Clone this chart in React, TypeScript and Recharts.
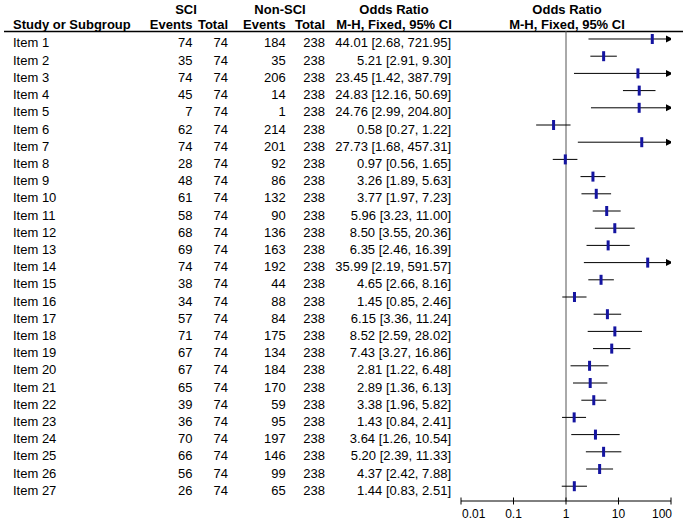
import React from "react";
import {
  ScatterChart,
  Scatter,
  XAxis,
  YAxis,
  ReferenceLine,
  Customized,
} from "recharts";

const studies = [
  "Item 1", "Item 2", "Item 3", "Item 4", "Item 5", "Item 6", "Item 7", "Item 8", "Item 9",
  "Item 10", "Item 11", "Item 12", "Item 13", "Item 14", "Item 15", "Item 16", "Item 17", "Item 18",
  "Item 19", "Item 20", "Item 21", "Item 22", "Item 23", "Item 24", "Item 25", "Item 26", "Item 27",
];
const sciEvents = [74, 35, 74, 45, 7, 62, 74, 28, 48, 61, 58, 68, 69, 74, 38, 34, 57, 71, 67, 67, 65, 39, 36, 70, 66, 56, 26];
const sciTotal = [74, 74, 74, 74, 74, 74, 74, 74, 74, 74, 74, 74, 74, 74, 74, 74, 74, 74, 74, 74, 74, 74, 74, 74, 74, 74, 74];
const nonEvents = [184, 35, 206, 14, 1, 214, 201, 92, 86, 132, 90, 136, 163, 192, 44, 88, 84, 175, 134, 184, 170, 59, 95, 197, 146, 99, 65];
const nonTotal = [238, 238, 238, 238, 238, 238, 238, 238, 238, 238, 238, 238, 238, 238, 238, 238, 238, 238, 238, 238, 238, 238, 238, 238, 238, 238, 238];
const oddsRatio = [44.01, 5.21, 23.45, 24.83, 24.76, 0.58, 27.73, 0.97, 3.26, 3.77, 5.96, 8.5, 6.35, 35.99, 4.65, 1.45, 6.15, 8.52, 7.43, 2.81, 2.89, 3.38, 1.43, 3.64, 5.2, 4.37, 1.44];
const ciLow = [2.68, 2.91, 1.42, 12.16, 2.99, 0.27, 1.68, 0.56, 1.89, 1.97, 3.23, 3.55, 2.46, 2.19, 2.66, 0.85, 3.36, 2.59, 3.27, 1.22, 1.36, 1.96, 0.84, 1.26, 2.39, 2.42, 0.83];
const ciHigh = [721.95, 9.3, 387.79, 50.69, 204.8, 1.22, 457.31, 1.65, 5.63, 7.23, 11.0, 20.36, 16.39, 591.57, 8.16, 2.46, 11.24, 28.02, 16.86, 6.48, 6.13, 5.82, 2.41, 10.54, 11.33, 7.88, 2.51];
const axisTicks = [0.01, 0.1, 1, 10, 100];
const axisTickLabels = ["0.01", "0.1", "1", "10", "100"];

const AXIS_MIN = axisTicks[0];
const AXIS_MAX = axisTicks[axisTicks.length - 1];

const rows = studies.map((s, i) => ({ row: i + 1 }));
const markerData = studies.map((s, i) => ({ x: oddsRatio[i], y: i + 1 }));
const arrowData = studies
  .map((s, i) => ({ x: AXIS_MAX, y: i + 1, over: ciHigh[i] > AXIS_MAX }))
  .filter((d) => d.over);

const FONT = "'Liberation Sans', Arial, Helvetica, sans-serif";
const TEXT_DY = 8.5;

const fmt = (v: number) => v.toFixed(2);

const RowTick = (props: any) => {
  const { y, payload } = props;
  const i = payload.value - 1;
  if (i < 0 || i >= studies.length) return null;
  const ty = y + TEXT_DY;
  const common = { fontFamily: FONT, fontSize: 13, fill: "#000" } as any;
  return (
    <g>
      <text x={13} y={ty} textAnchor="start" {...common}>{studies[i]}</text>
      <text x={192.5} y={ty} textAnchor="end" {...common}>{sciEvents[i]}</text>
      <text x={228} y={ty} textAnchor="end" {...common}>{sciTotal[i]}</text>
      <text x={285.7} y={ty} textAnchor="end" {...common}>{nonEvents[i]}</text>
      <text x={325} y={ty} textAnchor="end" {...common}>{nonTotal[i]}</text>
      <text x={451} y={ty} textAnchor="end" {...common}>
        {`${fmt(oddsRatio[i])} [${fmt(ciLow[i])}, ${fmt(ciHigh[i])}]`}
      </text>
    </g>
  );
};

const AxisTick = (props: any) => {
  const { x, y, payload, index } = props;
  const idx = axisTicks.indexOf(payload.value);
  const label = idx >= 0 ? axisTickLabels[idx] : String(payload.value);
  let anchor: any = "middle";
  let tx = x;
  if (idx === 0) {
    anchor = "start";
    tx = x + 1;
  } else if (idx === axisTicks.length - 1) {
    anchor = "end";
    tx = x + 1;
  }
  return (
    <g>
      <line x1={x} x2={x} y1={y - 3.5} y2={y + 3.5} stroke="#000" strokeWidth={1} />
      <text x={tx} y={y + 17} textAnchor={anchor} fontFamily={FONT} fontSize={12} fill="#000">
        {label}
      </text>
    </g>
  );
};

const Header = () => {
  const b = { fontFamily: FONT, fontSize: 13, fontWeight: "bold", fill: "#000" } as any;
  return (
    <g>
      <text x={186} y={13.5} textAnchor="middle" {...b}>SCI</text>
      <text x={280} y={13.5} textAnchor="middle" {...b}>Non-SCI</text>
      <text x={394} y={13.5} textAnchor="middle" {...b}>Odds Ratio</text>
      <text x={567} y={13.5} textAnchor="middle" {...b}>Odds Ratio</text>
      <text x={13} y={29} textAnchor="start" {...b}>Study or Subgroup</text>
      <text x={192.5} y={29} textAnchor="end" {...b}>Events</text>
      <text x={228} y={29} textAnchor="end" {...b}>Total</text>
      <text x={285.7} y={29} textAnchor="end" {...b}>Events</text>
      <text x={325} y={29} textAnchor="end" {...b}>Total</text>
      <text x={394} y={29} textAnchor="middle" {...b}>M-H, Fixed, 95% CI</text>
      <text x={567} y={29} textAnchor="middle" {...b}>M-H, Fixed, 95% CI</text>
      <line x1={4} x2={683} y1={31.5} y2={31.5} stroke="#000" strokeWidth={1.3} />
    </g>
  );
};

const MarkerShape = (props: any) => {
  const { cx, cy } = props;
  return <rect x={cx - 1.5} y={cy - 5} width={3} height={10} fill="#1414a0" />;
};

const ArrowShape = (props: any) => {
  const { cx, cy } = props;
  return (
    <path
      d={`M ${cx + 2} ${cy} L ${cx - 5} ${cy - 3.5} L ${cx - 5} ${cy + 3.5} Z`}
      fill="#000"
    />
  );
};

export default function App() {
  return (
    <div style={{ position: "absolute", left: 0, top: 0, width: 686, height: 523, background: "#fff" }}>
      <ScatterChart
        width={686}
        height={523}
        margin={{ top: 31, right: 15, bottom: 0, left: 460 }}
      >
        <XAxis
          type="number"
          dataKey="x"
          scale="log"
          domain={[AXIS_MIN, AXIS_MAX]}
          ticks={axisTicks}
          allowDataOverflow
          height={22}
          tickSize={0}
          tickMargin={0}
          tickLine={false}
          axisLine={{ stroke: "#000", strokeWidth: 1 }}
          tick={<AxisTick />}
          interval={0}
        />
        <YAxis
          type="number"
          dataKey="y"
          domain={[0.535, 27.86]}
          reversed
          ticks={rows.map((r) => r.row)}
          interval={0}
          width={1}
          axisLine={false}
          tickLine={false}
          tick={<RowTick />}
          allowDataOverflow
        />
        <ReferenceLine x={1} stroke="#555" strokeWidth={1} ifOverflow="visible" />
        {studies.map((s, i) => (
          <ReferenceLine
            key={s}
            segment={[
              { x: Math.max(ciLow[i], AXIS_MIN), y: i + 1 },
              { x: Math.min(ciHigh[i], AXIS_MAX), y: i + 1 },
            ]}
            stroke="#000"
            strokeWidth={1}
            ifOverflow="visible"
          />
        ))}
        <Scatter data={arrowData} shape={<ArrowShape />} isAnimationActive={false} />
        <Scatter data={markerData} shape={<MarkerShape />} isAnimationActive={false} />
        <Customized component={<Header />} />
      </ScatterChart>
    </div>
  );
}
